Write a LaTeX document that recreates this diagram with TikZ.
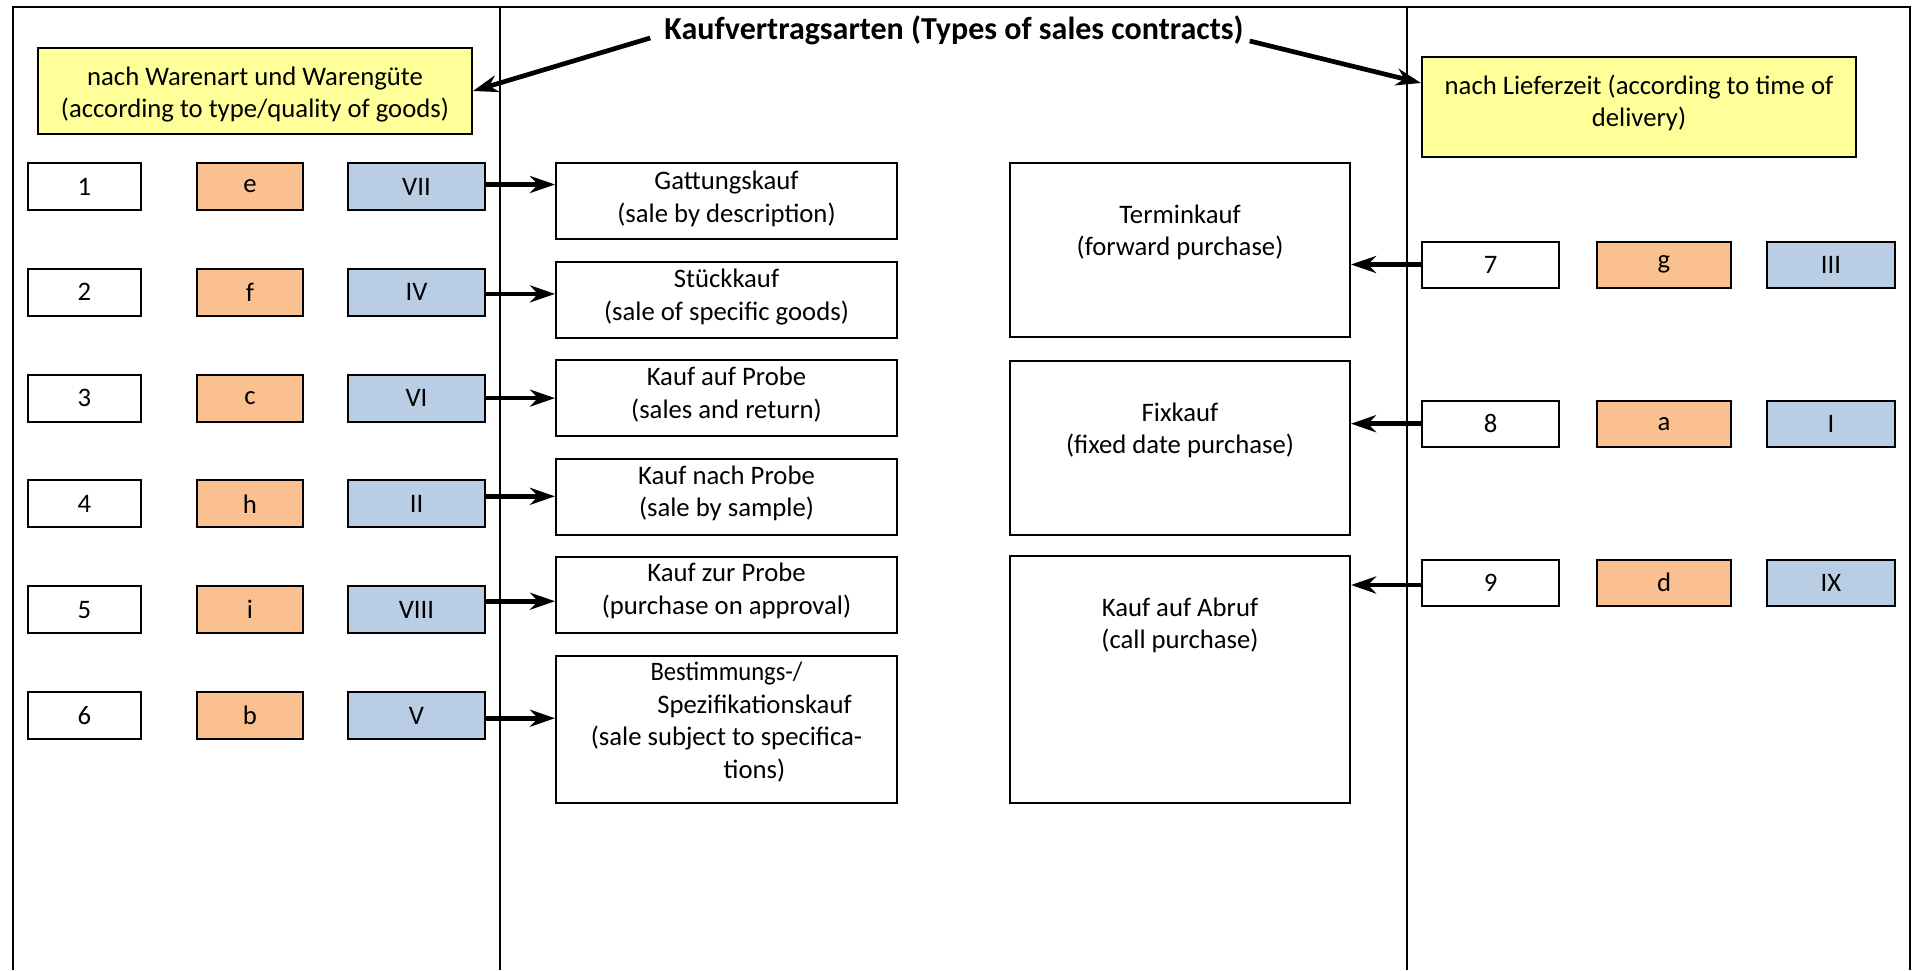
\documentclass[tikz,border=0pt]{standalone}
\usepackage{fontspec}
\setmainfont{Carlito}
\usepackage{graphicx}
\usetikzlibrary{arrows.meta,calc}
\definecolor{ylw}{RGB}{255,255,153}
\definecolor{orng}{RGB}{250,192,144}
\definecolor{blu}{RGB}{185,205,229}
\begin{document}
\begin{tikzpicture}[x=1pt,y=-1pt,
  txt/.style={font=\fontsize{26.7}{32.6}\selectfont},
  boxtext/.style={txt, align=center, inner sep=0pt},
  bx/.style={txt, draw=black, line width=2pt, inner sep=0pt, align=center},
  numbox/.style={bx, fill=white, minimum width=113pt, minimum height=47pt},
  letbox/.style={bx, fill=orng, minimum width=106pt, minimum height=47pt},
  romleft/.style={bx, fill=blu, minimum width=137pt, minimum height=47pt},
  numboxr/.style={bx, fill=white, minimum width=137pt, minimum height=46pt},
  letboxr/.style={bx, fill=orng, minimum width=134pt, minimum height=46pt},
  rombox/.style={bx, fill=blu, minimum width=128pt, minimum height=46pt},
  kindbox/.style={bx, fill=white, minimum width=341pt, minimum height=76pt},
  timebox/.style={bx, fill=white, minimum width=340pt},
  critbox/.style={bx, fill=ylw, minimum width=434pt},
  frame/.style={line width=2pt},
  divider/.style={line width=1.8pt},
  arr/.style={line width=4.7pt, -{Stealth[length=25pt,width=17pt,inset=8pt]}},
  titlef/.style={font=\fontsize{32}{39}\selectfont\bfseries, inner sep=2pt}
]
\useasboundingbox (0,0) rectangle (1912,970);
% frame and dividers
\draw[frame] (13,970) -- (13,7) -- (1910,7) -- (1910,970);
\draw[divider] (500,7) -- (500,970);
\draw[divider] (1407,7) -- (1407,970);

% title
\node[titlef, anchor=base] (title) at (954,39) {Kaufvertragsarten (Types of sales contracts)};

% criteria boxes
\node[critbox, minimum height=86pt] (crit1) at (255,91) {};
\node[boxtext] (crit1txt) at (255,94.5) {nach Warenart und Warengüte\\(according to type/quality of goods)};
\node[critbox, minimum height=100pt] (crit2) at (1639,107) {};
\node[boxtext] (crit2txt) at (1639,102.7) {nach Lieferzeit (according to time of\\delivery)};

% left rows
\node[numbox] (n1) at (84.5,186.5) {1};
\node[letbox] (l1) at (250,186.5) {e};
\node[romleft] (r1) at (416.5,186.5) {VII};
\node[numbox] (n2) at (84.5,292.3) {2};
\node[letbox] (l2) at (250,292.3) {f};
\node[romleft] (r2) at (416.5,292.3) {IV};
\node[numbox] (n3) at (84.5,398.1) {3};
\node[letbox] (l3) at (250,398.1) {c};
\node[romleft] (r3) at (416.5,398.1) {VI};
\node[numbox] (n4) at (84.5,503.9) {4};
\node[letbox] (l4) at (250,503.9) {h};
\node[romleft] (r4) at (416.5,503.9) {II};
\node[numbox] (n5) at (84.5,609.7) {5};
\node[letbox] (l5) at (250,609.7) {i};
\node[romleft] (r5) at (416.5,609.7) {VIII};
\node[numbox] (n6) at (84.5,715.5) {6};
\node[letbox] (l6) at (250,715.5) {b};
\node[romleft] (r6) at (416.5,715.5) {V};

% kinds of goods
\node[kindbox] (k1) at (726.5,201) {};
\node[boxtext] (k1txt) at (726.5,199) {Gattungskauf\\(sale by description)};
\node[kindbox] (k2) at (726.5,299.5) {};
\node[boxtext] (k2txt) at (726.5,297.2) {Stückkauf\\(sale of specific goods)};
\node[kindbox] (k3) at (726.5,398) {};
\node[boxtext] (k3txt) at (726.5,394.8) {Kauf auf Probe\\(sales and return)};
\node[kindbox] (k4) at (726.5,496.5) {};
\node[boxtext] (k4txt) at (726.5,493.5) {Kauf nach Probe\\(sale by sample)};
\node[kindbox] (k5) at (726.5,595) {};
\node[boxtext] (k5txt) at (726.5,591) {Kauf zur Probe\\(purchase on approval)};
\node[kindbox, minimum height=147pt] (k6) at (726.5,729) {};
\node[boxtext] (k6txt) at (726.5,722) {\scalebox{0.92}[1]{Bestimmungs-/}\\\hspace*{56pt}Spezifikationskauf\\(sale subject to specifica-\\\hspace*{56pt}tions)};

% time of delivery boxes
\node[timebox, minimum height=174pt] (t1) at (1180,250) {};
\node[timebox, minimum height=174pt] (t2) at (1180,448) {};
\node[timebox, minimum height=247pt] (t3) at (1180,679.5) {};
\node[boxtext] (t1txt) at ($(t1.north)+(0,70.5)$) {Terminkauf\\(forward purchase)};
\node[boxtext] (t2txt) at ($(t2.north)+(0,70.5)$) {Fixkauf\\(fixed date purchase)};
\node[boxtext] (t3txt) at ($(t3.north)+(0,70.5)$) {Kauf auf Abruf\\(call purchase)};

% right rows
\node[numboxr] (n7) at (1490.5,264.5) {7};
\node[letboxr] (l7) at (1664,264.5) {g};
\node[rombox] (r7) at (1831,264.5) {III};
\node[numboxr] (n8) at (1490.5,423.7) {8};
\node[letboxr] (l8) at (1664,423.7) {a};
\node[rombox] (r8) at (1831,423.7) {I};
\node[numboxr] (n9) at (1490.5,582.5) {9};
\node[letboxr] (l9) at (1664,582.5) {d};
\node[rombox] (r9) at (1831,582.5) {IX};

% connectors
\draw[arr] ([xshift=-12pt,yshift=1pt]title.base west) -- (crit1.east);
\draw[arr] ([xshift=4pt,yshift=-2pt]title.base east) -- ([yshift=24pt]crit2.west);
\draw[arr] ([yshift=2pt]r1.east) -- ([yshift=2pt]r1.east -| k1.west);
\draw[arr] ([yshift=-1.6pt]r2.east) -- ([yshift=-1.6pt]r2.east -| k2.west);
\draw[arr] (r3.east) -- (r3.east -| k3.west);
\draw[arr] ([yshift=7.6pt]r4.east) -- ([yshift=7.6pt]r4.east -| k4.west);
\draw[arr] ([yshift=8.5pt]r5.east) -- ([yshift=8.5pt]r5.east -| k5.west);
\draw[arr] ([yshift=-2.7pt]r6.east) -- ([yshift=-2.7pt]r6.east -| k6.west);
\draw[arr] (n7.west) -- (n7.west -| t1.east);
\draw[arr] (n8.west) -- (n8.west -| t2.east);
\draw[arr] ([yshift=-2.5pt]n9.west) -- ([yshift=-2.5pt]n9.west -| t3.east);
\end{tikzpicture}
\end{document}
